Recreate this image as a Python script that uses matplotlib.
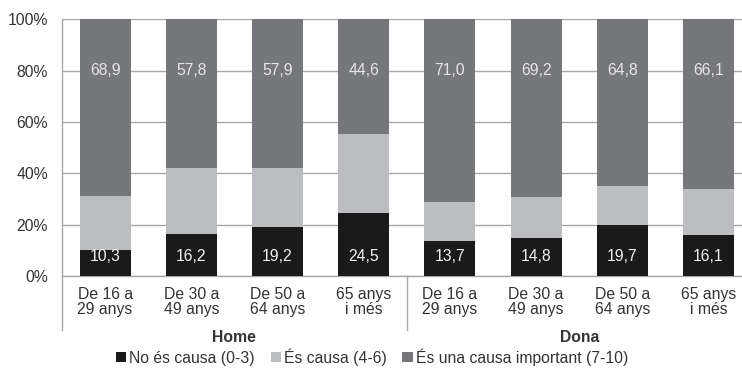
import matplotlib
matplotlib.use("Agg")
import matplotlib.pyplot as plt
from matplotlib.lines import Line2D

plt.rcParams['font.family'] = ['Liberation Sans', 'DejaVu Sans']

categories = ["De 16 a\n29 anys", "De 30 a\n49 anys", "De 50 a\n64 anys", "65 anys\ni més",
              "De 16 a\n29 anys", "De 30 a\n49 anys", "De 50 a\n64 anys", "65 anys\ni més"]
groups = ["Home", "Dona"]
no_causa = [10.3, 16.2, 19.2, 24.5, 13.7, 14.8, 19.7, 16.1]
es_causa = [20.8, 26.0, 22.9, 30.9, 15.3, 16.0, 15.5, 17.8]
important = [68.9, 57.8, 57.9, 44.6, 71.0, 69.2, 64.8, 66.1]
series_names = ["No és causa (0-3)", "És causa (4-6)", "És una causa important (7-10)"]
yticks = [0, 20, 40, 60, 80, 100]

c_black = "#1b1a1a"
c_light = "#bcbdc0"
c_dark = "#76777b"
txt = "#333333"
fs = 11.3

fig = plt.figure(figsize=(7.42, 3.77), dpi=100)
ax = fig.add_axes([62/742, 101/377, 680/742, 256.7/377])

x = list(range(len(categories)))
w = 0.59
b1 = ax.bar(x, no_causa, w, color=c_black, zorder=3, label=series_names[0])
b2 = ax.bar(x, es_causa, w, bottom=no_causa, color=c_light, zorder=3, label=series_names[1])
bot3 = [a + b for a, b in zip(no_causa, es_causa)]
b3 = ax.bar(x, important, w, bottom=bot3, color=c_dark, zorder=3, label=series_names[2])

for i in x:
    ax.text(i, 7.5, f"{no_causa[i]:.1f}".replace(".", ","), ha="center", va="center",
            color="#f0f0f0", fontsize=fs, zorder=4)
    ax.text(i, 80, f"{important[i]:.1f}".replace(".", ","), ha="center", va="center",
            color="#e6e6e6", fontsize=fs, zorder=4)

ax.set_ylim(0, 100)
ax.set_xlim(-0.5, -0.5 + 680/86.2)
ax.set_yticks(yticks)
ax.set_yticklabels([f"{v}%" for v in yticks], color=txt, fontsize=fs)
ax.set_xticks(x)
ax.set_xticklabels(categories, color=txt, fontsize=fs, linespacing=1.0)
ax.tick_params(axis="both", length=0)
ax.tick_params(axis="x", pad=8)
ax.tick_params(axis="y", pad=10)
ax.yaxis.grid(True, color="#a8a8a8", linewidth=1.0, zorder=0)
for s in ["top", "right", "bottom", "left"]:
    ax.spines[s].set_visible(False)

# left line extended down and group divider
ax.add_line(Line2D([-0.5, -0.5], [100, -21], color="#a8a8a8", lw=1.0, clip_on=False, zorder=2))
ax.add_line(Line2D([3.5, 3.5], [0, -21], color="#a8a8a8", lw=1.0, clip_on=False, zorder=2))
ax.add_line(Line2D([-0.5, 7.39], [0, 0], color="#a8a8a8", lw=1.0, clip_on=False, zorder=2))

ax.text(1.5, -23.8, groups[0], ha="center", va="center", fontsize=fs, fontweight="bold", color=txt)
ax.text(5.5, -23.8, groups[1], ha="center", va="center", fontsize=fs, fontweight="bold", color=txt)

leg = fig.legend(handles=[b1, b2, b3], labels=series_names, loc="center", ncol=3,
                 bbox_to_anchor=(372/742, 1 - 357/377), frameon=False, fontsize=fs,
                 handlelength=0.65, handleheight=0.65, handletextpad=0.2, columnspacing=1.0,
                 labelcolor=txt)

fig.savefig("out.png", dpi=100)
